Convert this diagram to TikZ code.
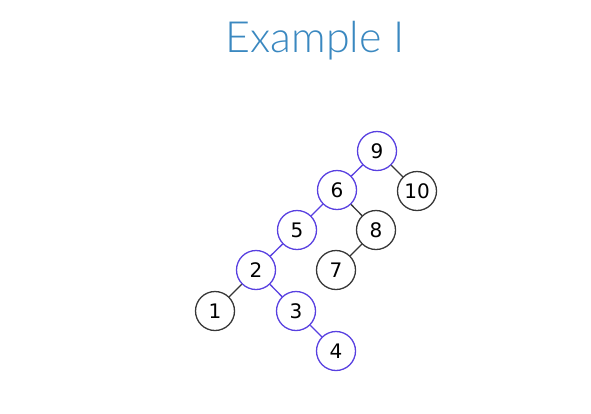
\documentclass[tikz,border=0pt]{standalone}
\usepackage{fontspec}
\setsansfont{DejaVu Sans}
\newfontfamily\titlefont{Lato Light}
\definecolor{titleblue}{RGB}{58,136,192}
\definecolor{pathblue}{RGB}{88,64,224}
\definecolor{nodegray}{RGB}{55,55,55}
\begin{document}
\begin{tikzpicture}[x=1pt,y=-1pt,
  tn/.style={circle,draw=nodegray,line width=1.3pt,minimum size=39pt,inner sep=0pt,font=\sffamily\fontsize{20}{20}\selectfont,text=black},
  bn/.style={tn,draw=pathblue},
  be/.style={draw=pathblue,line width=1.3pt},
  ge/.style={draw=nodegray,line width=1.3pt}]
\useasboundingbox (0,0) rectangle (591,413);
\node[font=\titlefont\fontsize{43}{43}\selectfont,text=titleblue] (title) at (315,41) {Example I};
\node[bn] (n9) at (377,151) {9};
\node[tn] (n10) at (417,191) {10};
\node[bn] (n6) at (337,190) {6};
\node[tn] (n8) at (376,230) {8};
\node[bn] (n5) at (297,230) {5};
\node[tn] (n7) at (336,270) {7};
\node[bn] (n2) at (256,270) {2};
\node[tn] (n1) at (215,311) {1};
\node[bn] (n3) at (296,311) {3};
\node[bn] (n4) at (336,351) {4};
\draw[be] (n9) -- (n6);
\draw[ge] (n9) -- (n10);
\draw[be] (n6) -- (n5);
\draw[ge] (n6) -- (n8);
\draw[ge] (n8) -- (n7);
\draw[be] (n5) -- (n2);
\draw[ge] (n2) -- (n1);
\draw[be] (n2) -- (n3);
\draw[be] (n3) -- (n4);
\end{tikzpicture}
\end{document}
